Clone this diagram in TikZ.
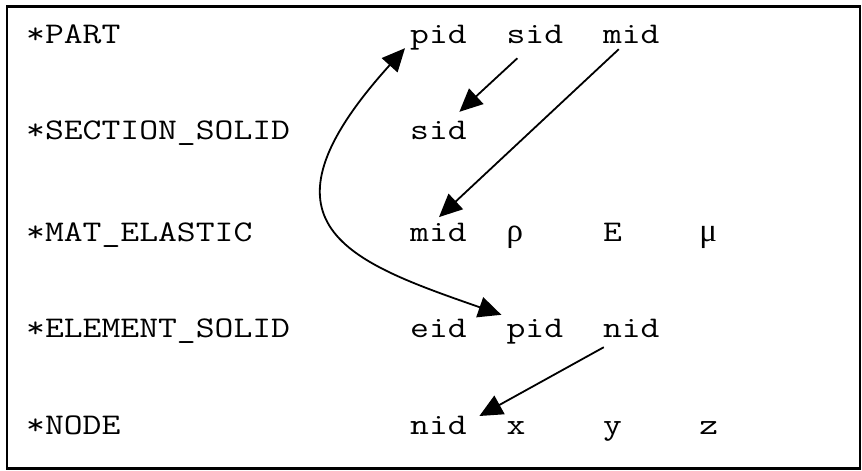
\documentclass[tikz,border=0pt]{standalone}
\usepackage{fontspec}
\setmonofont[FakeStretch=1.22]{Latin Modern Mono}
\newfontfamily\greekfont{Liberation Serif}
\usetikzlibrary{arrows.meta,positioning}

\begin{document}
\begin{tikzpicture}[x=1pt, y=-1pt, node distance=38.4pt, >={Triangle[length=23pt,width=21pt]},
  kw/.style={inner sep=0pt, anchor=west, text height=22pt, text depth=7pt, font=\fontsize{30}{36}\selectfont\ttfamily},
  fld/.style={kw, text width=57.6pt, align=left},
  gr/.style={font=\fontsize{33}{38}\selectfont\greekfont},
  ref/.style={->, line width=1.8pt}]
\useasboundingbox (0,0) rectangle (862,471);
\draw[line width=2.2pt] (7,6.5) rectangle (860,468.5);

% keyword column
\node[kw] (part) at (26,36) {*PART};
\node[kw] (secsolid) at (26,132) {*SECTION\_SOLID};
\node[kw] (matel) at (26,233.5) {*MAT\_ELASTIC};
\node[kw] (elsolid) at (26,329.5) {*ELEMENT\_SOLID};
\node[kw] (nodekw) at (26,426.5) {*NODE};

% fields
\node[fld] (pidA) at (410,36) {pid};
\node[fld,right=of pidA] (sidA) {sid};
\node[fld,right=of sidA] (midA) {mid};

\node[fld] (sidB) at (410,132) {sid};

\node[fld] (midC) at (410,233.5) {mid};
\node[fld,gr,right=of midC] (rhoC) {ρ};
\node[fld,right=of rhoC] (eC) {E};
\node[fld,gr,right=of eC] (muC) {μ};

\node[fld] (eidD) at (410,329.5) {eid};
\node[fld,right=of eidD] (pidD) {pid};
\node[fld,right=of pidD] (nidD) {nid};

\node[fld] (nidE) at (410,426.5) {nid};
\node[fld,right=of nidE] (xE) {x};
\node[fld,right=of xE] (yE) {y};
\node[fld,right=of yE] (zE) {z};

% references
\draw[ref] ([xshift=-18pt,yshift=-7.5pt]sidA.south) -- ([xshift=-8.6pt,yshift=5.5pt]sidB.north east);
\draw[ref] ([xshift=-13pt,yshift=1.5pt]midA.south) -- ([yshift=1.7pt]midC.north);
\draw[ref,<->] ([xshift=-5pt,yshift=2.5pt]pidA.south west) .. controls +(-160,177) and +(-152,-53) .. ([xshift=-5pt]pidD.north west);
\draw[ref] ([xshift=1pt,yshift=-3pt]nidD.south west) -- ([xshift=11.4pt,yshift=10.5pt]nidE.east);
\end{tikzpicture}
\end{document}
